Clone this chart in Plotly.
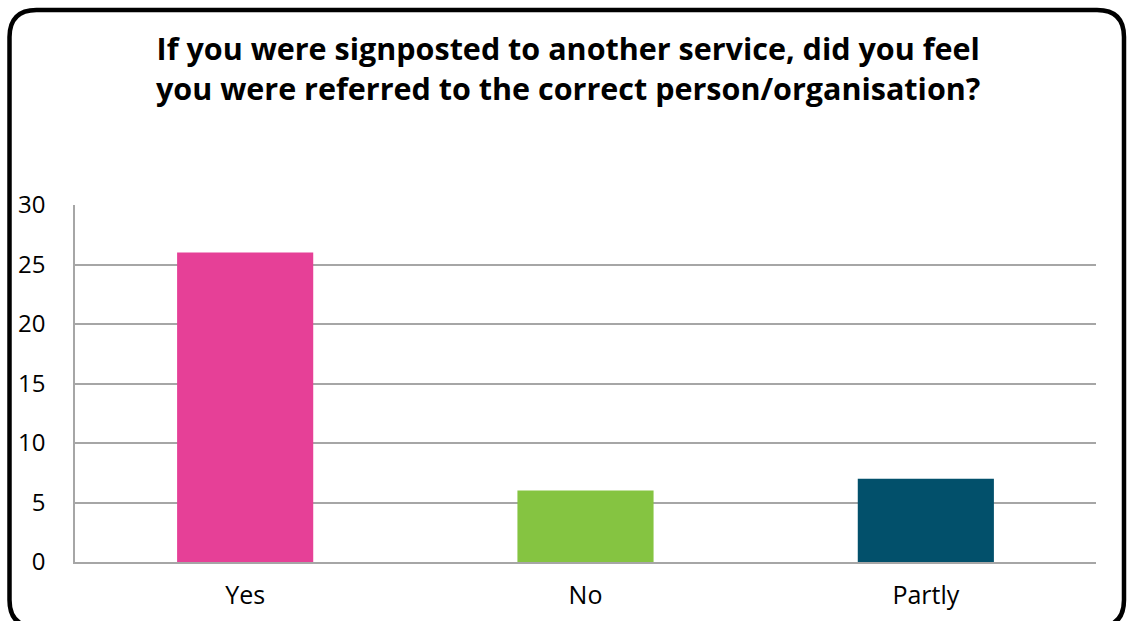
import plotly.graph_objects as go

categories = ["Yes", "No", "Partly"]
values = [26, 6, 7]
colors = ["#E64097", "#85C441", "#02506B"]
title_lines = ["If you were signposted to another service, did you feel",
               "you were referred to the correct person/organisation?"]

W, H = 1127, 621
L, R, T, B = 75, 1096, 205, 562


def px(x):
    return (x - L) / (R - L)


def py(y):
    return (B - y) / (B - T)


def rounded_rect(x0, y0, x1, y1, r):
    pts = [
        ("M", [(x0 + r, y0)]),
        ("L", [(x1 - r, y0)]),
        ("Q", [(x1, y0), (x1, y0 + r)]),
        ("L", [(x1, y1 - r)]),
        ("Q", [(x1, y1), (x1 - r, y1)]),
        ("L", [(x0 + r, y1)]),
        ("Q", [(x0, y1), (x0, y1 - r)]),
        ("L", [(x0, y0 + r)]),
        ("Q", [(x0, y0), (x0 + r, y0)]),
    ]
    s = ""
    for cmd, ps in pts:
        s += cmd + " " + " ".join(f"{px(a):.5f},{py(b):.5f}" for a, b in ps) + " "
    return s + "Z"


fig = go.Figure(go.Bar(
    x=categories, y=values, marker=dict(color=colors, line=dict(width=0)),
    width=0.4,
))

font = "Open Sans, DejaVu Sans, sans-serif"

fig.update_layout(
    width=W, height=H,
    margin=dict(l=L, r=W - R, t=T, b=H - B),
    paper_bgcolor="white", plot_bgcolor="white",
    showlegend=False,
    font=dict(family=font, color="black", size=24),
    xaxis=dict(showgrid=False, showline=True, linecolor="#A6A6A6", linewidth=1.5,
               ticks="", ticklabelstandoff=10, tickfont=dict(size=25),
               automargin=False),
    yaxis=dict(range=[0, 30], tickvals=[0, 5, 10, 15, 20, 25, 30],
               showgrid=True, gridcolor="#A6A6A6", gridwidth=1.5,
               showline=True, linecolor="#A6A6A6", linewidth=1.5,
               zeroline=False, ticks="", ticklabelstandoff=23,
               tickfont=dict(size=24), automargin=False),
    annotations=[dict(text="<b>" + "<br>".join(title_lines) + "</b>",
                      xref="paper", yref="paper", x=px(568), y=py(68),
                      xanchor="center", yanchor="middle", showarrow=False,
                      font=dict(family=font, size=30.5, color="black"))],
    shapes=[dict(type="path", xref="paper", yref="paper",
                 path=rounded_rect(9.5, 10, 1124, 627, 27),
                 line=dict(color="black", width=4.5))],
)

fig.write_html(
    "out.html",
    config={"displayModeBar": False},
    post_script="document.documentElement.style.margin='0';"
                "document.body.style.margin='0';"
                "document.body.style.overflow='hidden';",
)
